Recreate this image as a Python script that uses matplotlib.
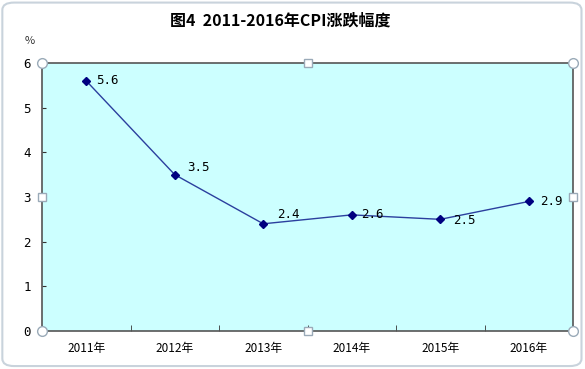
import matplotlib
matplotlib.use('Agg')
import matplotlib.pyplot as plt
from matplotlib.patches import FancyBboxPatch

plt.rcParams['font.family'] = ['Noto Sans CJK SC', 'DejaVu Sans']

years = ['2011年', '2012年', '2013年', '2014年', '2015年', '2016年']
cpi = [5.6, 3.5, 2.4, 2.6, 2.5, 2.9]
label_text = ['5.6', '3.5', '2.4', '2.6', '2.5', '2.9']
# label offsets in points (dx, dy)
label_offsets = [(7, 0), (9, 5), (10, 7), (7, 0), (9, -1), (8, 0)]

fig = plt.figure(figsize=(5.85, 3.69), dpi=100)
fig.patch.set_facecolor('white')

# rounded outer frame
frame = FancyBboxPatch((0.004, 0.008), 0.99, 0.985,
                       boxstyle='round,pad=0,rounding_size=0.02',
                       transform=fig.transFigure, facecolor='white',
                       edgecolor='#c9d3dc', lw=1.5, zorder=-10)
fig.patches.append(frame)

ax = fig.add_axes([42 / 585, 1 - 331 / 369, 531 / 585, 268 / 369])
ax.set_facecolor('#ccffff')

x = list(range(len(years)))
ax.plot(x, cpi, color='#2b3f9e', lw=1.0, marker='D', markersize=4,
        markerfacecolor='#000080', markeredgecolor='#000080', zorder=3)

for xi, v, t, (dx, dy) in zip(x, cpi, label_text, label_offsets):
    ax.annotate(t, (xi, v), xytext=(dx, dy), textcoords='offset points',
                ha='left', va='center', fontsize=9,
                family=['DejaVu Sans Mono'])

ax.set_xlim(-0.5, len(years) - 0.5)
ax.set_ylim(0, 6)
ax.set_yticks(range(0, 7))
ax.set_xticks(x)
ax.set_xticklabels(years, fontsize=8.5)
ax.set_xticks([i + 0.5 for i in x[:-1]], minor=True)
ax.tick_params(axis='x', which='major', length=0, pad=8)
ax.tick_params(axis='x', which='minor', direction='in', length=4, color='#333333')
ax.tick_params(axis='y', direction='in', length=3, color='#333333',
               labelsize=9, pad=8)
for lab in ax.get_yticklabels():
    lab.set_family(['DejaVu Sans Mono'])

for s in ax.spines.values():
    s.set_color('#555555')
    s.set_linewidth(1.2)

# selection handles on plot area
hx = [0, 1, 0, 1]
hy = [0, 0, 1, 1]
ax.plot(hx, hy, 'o', transform=ax.transAxes, clip_on=False, markersize=7,
        markerfacecolor='white', markeredgecolor='#9aaab8', zorder=5)
sx = [0.5, 0.5, 0, 1]
sy = [0, 1, 0.5, 0.5]
ax.plot(sx, sy, 's', transform=ax.transAxes, clip_on=False, markersize=5.5,
        markerfacecolor='white', markeredgecolor='#9aaab8', zorder=5)

fig.text(280 / 585, 1 - 21 / 369, '图4  2011-2016年CPI涨跌幅度', ha='center',
         va='center', fontsize=11.5, fontweight='bold')
fig.text(30 / 585, 1 - 41 / 369, '%', ha='center', va='center', fontsize=8,
         color='#333333')

fig.savefig('out.png', dpi=100)
